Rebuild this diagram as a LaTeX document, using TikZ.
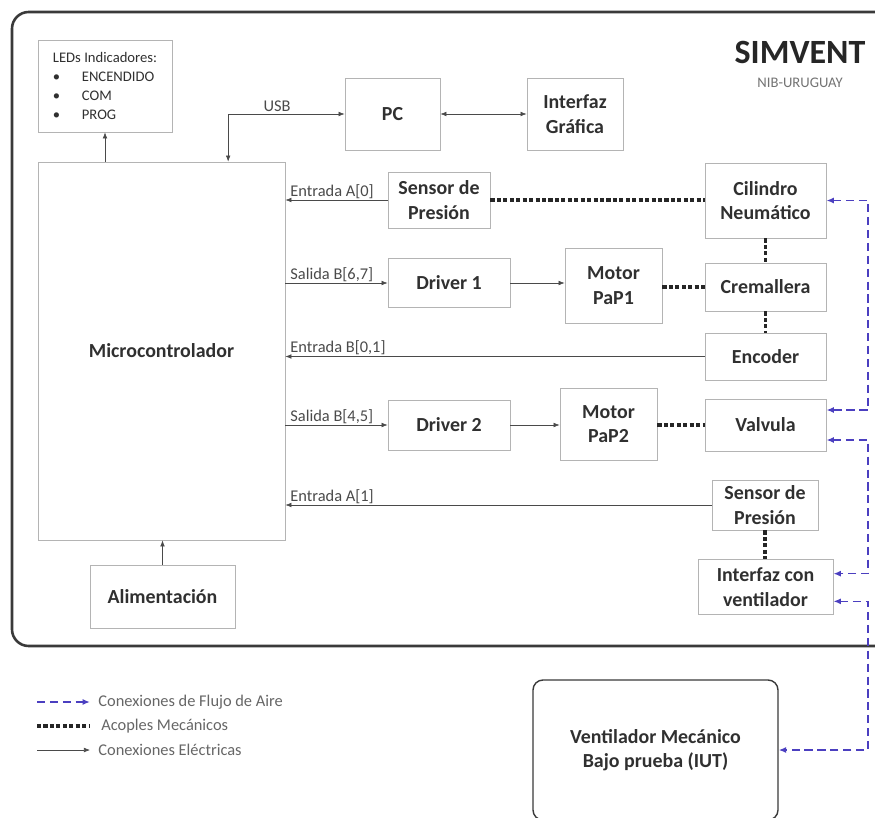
\documentclass[tikz,border=0pt]{standalone}
\usepackage{fontspec}
\setmainfont{Carlito}
\usetikzlibrary{arrows.meta,positioning}
\definecolor{Edge}{HTML}{B4B4B4}
\definecolor{Wire}{HTML}{4A4A4A}
\definecolor{Label}{HTML}{303030}
\definecolor{Air}{HTML}{4B3FC0}
\definecolor{Frame}{HTML}{3A3A3A}
\tikzset{
  elecarrow/.style={-{Latex[length=1.8mm,width=1.4mm]},line width=0.5pt,draw=Wire},
  elecboth/.style={{Latex[length=1.8mm,width=1.4mm]}-{Latex[length=1.8mm,width=1.4mm]},line width=0.5pt,draw=Wire},
  mechlink/.style={line width=3pt,draw=black!85,dash pattern=on 3.5pt off 2pt},
  airflow/.style={{Latex[length=2.2mm,width=1.8mm]}-{Latex[length=2.2mm,width=1.8mm]},line width=1.3pt,draw=Air,dash pattern=on 7pt off 4pt},
  blockbox/.style={draw=Edge,line width=0.8pt,fill=white,align=center,inner sep=2pt,text=Label,
    font=\fontsize{17}{21}\selectfont\bfseries},
  portlabel/.style={anchor=south west,inner sep=1pt,xshift=3pt,text=Wire,font=\fontsize{14}{16}\selectfont},
  legendtext/.style={anchor=west,inner sep=1pt,text=black!60,font=\fontsize{14}{16}\selectfont},
}

\begin{document}
\begin{tikzpicture}[x=0.03cm,y=-0.03cm]
    \useasboundingbox (0,0) rectangle (875,817);
    \draw[line width=2.2pt,draw=Frame,rounded corners=5mm] (875,12) -- (12,12) -- (12,646) -- (875,646);

    % top row
    \node[draw=Edge,line width=0.8pt,minimum width=4.02cm,minimum height=2.76cm,align=left,anchor=center,
      text=Label,font=\fontsize{12.5}{16}\selectfont] (leds) at (105,86)
      {LEDs Indicadores:\\ \textbullet\hspace{6.5mm}ENCENDIDO\\ \textbullet\hspace{6.5mm}COM\\ \textbullet\hspace{6.5mm}PROG};
    \node[blockbox,minimum width=2.85cm,minimum height=2.16cm] (pc) at (392.5,114) {PC};
    \node[blockbox,minimum width=2.88cm,minimum height=2.16cm] (gui) at (575,114) {Interfaz\\Gráfica};
    \node[text=black!85,font=\fontsize{29}{32}\selectfont\bfseries] (title) at (800,52) {SIMVENT};
    \node[text=black!55,font=\fontsize{12.5}{14}\selectfont] (subtitle) at (800,83) {NIB-URUGUAY};

    % controller side
    \node[blockbox,minimum width=7.41cm,minimum height=11.34cm] (mcu) at (161.5,351) {Microcontrolador};
    \node[blockbox,minimum width=4.35cm,minimum height=1.89cm] (power) at (162.5,596.5) {Alimentación};

    % actuators and sensors
    \node[blockbox,minimum width=3.06cm,minimum height=1.68cm] (psens1) at (439,200) {Sensor de\\Presión};
    \node[blockbox,minimum width=3.63cm,minimum height=2.25cm] (cyl) at (765.5,200.5) {Cilindro\\Neumático};
    \node[blockbox,minimum width=3.66cm,minimum height=1.47cm] (drv1) at (449,283) {Driver 1};
    \node[blockbox,minimum width=2.91cm,minimum height=2.25cm] (mot1) at (613.5,285.5) {Motor\\PaP1};
    \node[blockbox,minimum width=3.63cm,minimum height=1.44cm] (rack) at (765.5,287) {Cremallera};
    \node[blockbox,minimum width=3.63cm,minimum height=1.41cm] (enc) at (765.5,356.5) {Encoder};
    \node[blockbox,minimum width=3.66cm,minimum height=1.5cm] (drv2) at (449,425) {Driver 2};
    \node[blockbox,minimum width=2.91cm,minimum height=2.16cm] (mot2) at (608.5,424) {Motor\\PaP2};
    \node[blockbox,minimum width=3.63cm,minimum height=1.56cm] (valve) at (765.5,425) {Valvula};
    \node[blockbox,minimum width=3.18cm,minimum height=1.5cm] (psens2) at (765,505) {Sensor de\\Presión};
    \node[blockbox,minimum width=4.05cm,minimum height=1.65cm] (vif) at (765.5,587) {Interfaz con\\ventilador};
    \node[blockbox,draw=Frame,line width=1.2pt,rounded corners=3mm,minimum width=7.35cm,minimum height=4.2cm] (iut) at (655.5,750) {Ventilador Mecánico\\Bajo prueba (IUT)};

    % electrical links
    \draw[elecarrow] (leds.south |- mcu.north) -- (leds.south);
    \draw[elecarrow] (power.north) -- (power.north |- mcu.south);
    \draw[elecboth] (pc.west) -| node[pos=0.29,above,inner sep=2pt,text=Wire,font=\fontsize{14}{16}\selectfont] {USB} ([xshift=2cm]mcu.north);
    \draw[elecboth] (pc.east) -- (gui.west);
    \draw[elecarrow] (psens1.west) -- (psens1.west -| mcu.east) node[portlabel] {Entrada A[0]};
    \draw[elecarrow] (drv1.west -| mcu.east) node[portlabel] {Salida B[6,7]} -- (drv1.west);
    \draw[elecarrow] (drv1.east) -- (drv1.east -| mot1.west);
    \draw[elecarrow] (enc.west) -- (enc.west -| mcu.east) node[portlabel] {Entrada B[0,1]};
    \draw[elecarrow] (drv2.west -| mcu.east) node[portlabel] {Salida B[4,5]} -- (drv2.west);
    \draw[elecarrow] (drv2.east) -- (drv2.east -| mot2.west);
    \draw[elecarrow] (psens2.west) -- (psens2.west -| mcu.east) node[portlabel] {Entrada A[1]};

    % mechanical couplings
    \draw[mechlink] (psens1.east) -- (psens1.east -| cyl.west);
    \draw[mechlink] (cyl.south) -- (rack.north);
    \draw[mechlink] (rack.south) -- (enc.north);
    \draw[mechlink] (mot1.east |- rack.west) -- (rack.west);
    \draw[mechlink] (mot2.east |- valve.west) -- (valve.west);
    \draw[mechlink] (psens2.south) -- (psens2.south |- vif.north);

    % air flow
    \coordinate (airbus) at (868,0);
    \draw[airflow] (cyl.east) -- (cyl.east -| airbus) |- ([yshift=0.45cm]valve.east);
    \draw[airflow] ([yshift=-0.45cm]valve.east) -- ([yshift=-0.45cm]valve.east -| airbus) |- ([yshift=0.4cm]vif.east);
    \draw[airflow] ([yshift=-0.43cm]vif.east) -- ([yshift=-0.43cm]vif.east -| airbus) |- (iut.east);

    % legend
    \node[legendtext] (legair) at (97,702) {Conexiones de Flujo de Aire};
    \node[legendtext] (legmech) at (100,726) {Acoples Mecánicos};
    \node[legendtext] (legelec) at (97,750) {Conexiones Eléctricas};
    \draw[airflow,arrows={-Latex[length=2.2mm,width=1.8mm]}] (37,702) -- ([xshift=-6pt]legair.west);
    \draw[mechlink] (37,726) -- ([xshift=-9pt]legmech.west);
    \draw[elecarrow] (37,750) -- ([xshift=-6pt]legelec.west);
\end{tikzpicture}
\end{document}
